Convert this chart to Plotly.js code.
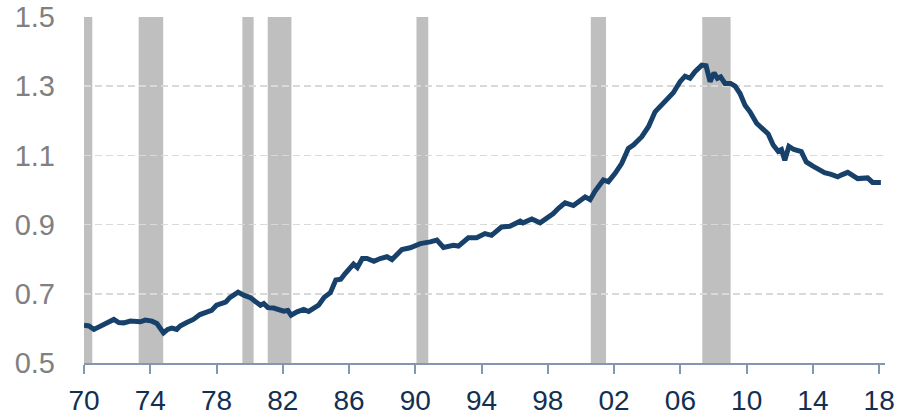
<!DOCTYPE html>
<html>
<head>
<meta charset="utf-8">
<script src="https://cdn.plot.ly/plotly-3.0.1.min.js"></script>
<style>
html,body{margin:0;padding:0;background:#fff;}
#chart{width:900px;height:419px;}
</style>
</head>
<body>
<div id="chart"></div>
<script>
// Series (year, value)
var years = [1970.0,1970.3,1970.6,1970.9,1971.2,1971.5,1971.8,1972.1,1972.4,1972.8,1973.1,1973.4,1973.7,1974.1,1974.4,1974.6,1974.8,1975.05,1975.3,1975.6,1975.8,1976.2,1976.6,1977.0,1977.4,1977.7,1978.0,1978.3,1978.55,1978.8,1979.3,1979.64,1980.04,1980.34,1980.65,1980.85,1981.1,1981.45,1981.75,1982.05,1982.3,1982.5,1982.86,1983.26,1983.56,1983.9,1984.16,1984.5,1984.87,1985.2,1985.5,1985.75,1986.27,1986.5,1986.8,1987.08,1987.5,1987.88,1988.29,1988.59,1989.19,1989.69,1990.3,1990.9,1991.3,1991.7,1992.3,1992.6,1993.2,1993.7,1994.2,1994.6,1995.2,1995.7,1996.33,1996.5,1997.03,1997.53,1998.03,1998.33,1998.64,1999.04,1999.54,2000.25,2000.55,2000.85,2001.35,2001.65,2002.06,2002.46,2002.86,2003.16,2003.67,2004.07,2004.47,2004.77,2005.17,2005.57,2005.98,2006.28,2006.58,2006.88,2007.29,2007.55,2007.79,2008.03,2008.23,2008.43,2008.69,2009.03,2009.3,2009.6,2009.9,2010.2,2010.6,2011.0,2011.3,2011.6,2011.9,2012.1,2012.3,2012.55,2012.85,2013.3,2013.6,2014.0,2014.4,2014.7,2015.1,2015.5,2015.7,2016.1,2016.3,2016.7,2017.3,2017.6,2018.1];
var values = [0.609,0.607,0.597,0.604,0.612,0.616,0.626,0.617,0.616,0.621,0.621,0.619,0.624,0.621,0.614,0.599,0.587,0.597,0.601,0.597,0.607,0.617,0.626,0.640,0.646,0.652,0.667,0.674,0.676,0.689,0.705,0.696,0.689,0.678,0.667,0.672,0.660,0.659,0.654,0.650,0.652,0.638,0.648,0.655,0.649,0.657,0.667,0.690,0.703,0.740,0.742,0.758,0.786,0.776,0.802,0.802,0.794,0.802,0.807,0.799,0.828,0.833,0.845,0.850,0.855,0.834,0.840,0.838,0.862,0.862,0.874,0.869,0.893,0.895,0.910,0.905,0.916,0.905,0.922,0.932,0.947,0.963,0.955,0.980,0.972,0.997,1.029,1.024,1.048,1.077,1.120,1.130,1.154,1.183,1.226,1.241,1.265,1.281,1.313,1.329,1.323,1.342,1.361,1.359,1.313,1.339,1.323,1.327,1.308,1.308,1.300,1.279,1.245,1.226,1.193,1.173,1.162,1.130,1.112,1.117,1.086,1.126,1.117,1.111,1.081,1.069,1.059,1.050,1.045,1.038,1.043,1.051,1.045,1.033,1.035,1.022,1.022];

// Recession periods (start, end)
var recessionStart = [1970.0, 1973.3, 1979.56, 1981.09, 1990.07, 2000.59, 2007.32];
var recessionEnd   = [1970.5, 1974.78, 1980.24, 1982.52, 1990.78, 2001.51, 2009.03];

// Axis ticks
var xTickVals = [1970,1974,1978,1982,1986,1990,1994,1998,2002,2006,2010,2014,2018];
var xTickText = ["70","74","78","82","86","90","94","98","02","06","10","14","18"];
var yTickVals = [0.5,0.7,0.9,1.1,1.3,1.5];
var yTickText = ["0.5","0.7","0.9","1.1","1.3","1.5"];

var shapes = recessionStart.map(function(s, i){
  return {type:'rect', xref:'x', yref:'paper', x0:s, x1:recessionEnd[i], y0:0, y1:1,
          fillcolor:'#bfbfbf', line:{width:0}, layer:'between'};
});

var trace = {
  x: years, y: values, type:'scatter', mode:'lines',
  line:{color:'#17416a', width:5, shape:'linear'},
  hoverinfo:'skip'
};

var layout = {
  width:900, height:419,
  margin:{l:83.5, r:15, t:17, b:56.3, pad:0},
  paper_bgcolor:'#ffffff', plot_bgcolor:'#ffffff',
  showlegend:false,
  font:{family:'Liberation Sans, Arial, sans-serif'},
  xaxis:{
    range:[1970, 2018.35], tickmode:'array', tickvals:xTickVals, ticktext:xTickText,
    showgrid:false, zeroline:false,
    showline:true, linecolor:'#8497b0', linewidth:2,
    ticks:'outside', ticklen:9, tickwidth:2, tickcolor:'#8497b0',
    ticklabelstandoff:2,
    tickfont:{size:28, color:'#132f52', family:'Liberation Sans, Arial, sans-serif'}
  },
  yaxis:{
    range:[0.5, 1.5], tickmode:'array', tickvals:yTickVals, ticktext:yTickText,
    showgrid:true, gridcolor:'#d9d9d9', gridwidth:1.5, griddash:'7px,4px',
    zeroline:false, showline:false, ticks:'',
    ticklabelstandoff:28,
    tickfont:{size:29, color:'#808080', family:'Liberation Sans, Arial, sans-serif'}
  },
  shapes: shapes
};

Plotly.newPlot('chart', [trace], layout, {displayModeBar:false, staticPlot:true});
</script>
</body>
</html>
